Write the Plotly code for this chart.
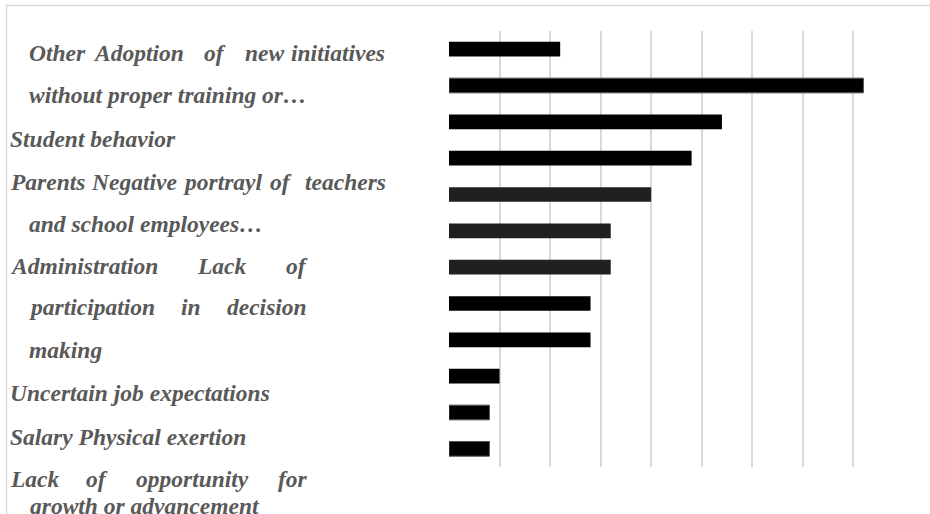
import plotly.graph_objects as go

# Responses per stress source, drawn top to bottom
counts = [11, 41, 27, 24, 20, 16, 16, 14, 14, 5, 4, 4]
bar_rank = list(range(1, 13))
bar_colors = ["#000000", "#000000", "#000000", "#000000", "#202020", "#202020",
              "#202020", "#000000", "#000000", "#000000", "#000000", "#000000"]
bar_outline = [0, 1, 0, 0, 0, 0, 0, 0, 0, 0, 1, 1]

# Category text block, one entry per printed line
label_lines = [
    "Other Adoption of new initiatives",
    "without proper training or…",
    "Student behavior",
    "Parents Negative portrayl of teachers",
    "and school employees…",
    "Administration Lack of",
    "participation in decision",
    "making",
    "Uncertain job expectations",
    "Salary Physical exertion",
    "Lack of opportunity for",
    "growth or advancement",
]

# ---- layout geometry (pixels) ----
W, H = 930, 514
L, R, T, B = 448.5, 890, 31, 467
grid_px = 50.6                      # pixels between gridlines (5 responses)
x_max = 5 * (R - L) / grid_px

# line centres and left edges of the text block
line_y = [53.2, 95, 138.5, 182, 223.5, 266, 307, 350, 393, 437, 478.7, 506]
line_x = [27, 27, 8, 8, 27, 8, 27, 27, 8, 8, 8, 27]
# justified lines: right edge and centres of the inner words
justify = {
    0: (385, [138, 214.5, 264]),
    3: (386, [133, 222.5, 280.5]),
    5: (308, [221]),
    6: (307, [190]),
    10: (308, [96, 191.5]),
}


def px_x(px):
    return (px - L) / (R - L)


def px_y(py):
    return (B - py) / (B - T)


SERIF = "Times New Roman"
label_font = dict(family=SERIF, size=23.5, color="#595959",
                  weight="bold", style="italic")

fig = go.Figure()
fig.add_trace(go.Bar(
    x=counts,
    y=bar_rank,
    orientation="h",
    width=0.405,
    marker=dict(color=bar_colors,
                line=dict(color="#555555", width=bar_outline)),
    hoverinfo="x",
))

annotations = []


def add_word(word, x, y, anchor):
    annotations.append(dict(
        text=f"<b><i>{word}</i></b>", x=px_x(x), y=px_y(y),
        xref="paper", yref="paper", xanchor=anchor, yanchor="middle",
        showarrow=False, font=label_font, borderpad=0,
    ))


for i, text in enumerate(label_lines):
    y = line_y[i]
    if i in justify:
        right, centres = justify[i]
        words = text.split(" ")
        add_word(words[0], line_x[i], y, "left")
        for word, cx in zip(words[1:-1], centres):
            add_word(word, cx, y, "center")
        add_word(words[-1], right, y, "right")
    else:
        add_word(text, line_x[i], y, "left")

fig.update_layout(
    width=W, height=H,
    margin=dict(l=L, r=W - R, t=T, b=H - B, pad=0),
    paper_bgcolor="white", plot_bgcolor="white",
    font=dict(family=SERIF),
    showlegend=False,
    xaxis=dict(range=[0, x_max], dtick=5, tick0=0, showgrid=True,
               gridcolor="#d9d9d9", gridwidth=1.5, zeroline=False,
               showticklabels=False, ticks="", showline=False, fixedrange=True),
    yaxis=dict(range=[12.5, 0.5], showgrid=False, zeroline=False,
               showticklabels=False, ticks="", showline=False, fixedrange=True),
    annotations=annotations,
    shapes=[dict(type="rect", xref="paper", yref="paper",
                 x0=px_x(5.5), x1=px_x(W + 20), y0=px_y(H + 20), y1=px_y(5.5),
                 line=dict(color="#d9d9d9", width=1.5), layer="below")],
)

fig.write_html("out.html", config={"displayModeBar": False})
